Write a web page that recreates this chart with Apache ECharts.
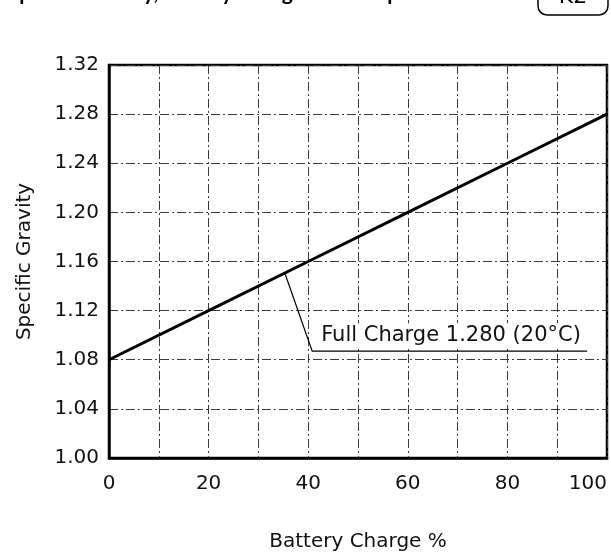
<!DOCTYPE html>
<html>
<head>
<meta charset="utf-8">
<script src="https://cdn.jsdelivr.net/npm/echarts@6/dist/echarts.min.js"></script>
<style>
  html, body { margin: 0; padding: 0; background: #fff; }
  #chart { width: 611px; height: 552px; }
</style>
</head>
<body>
<div id="chart"></div>
<script>
// Specific gravity of the electrolyte against state of charge
const chargePercent = [0, 20, 40, 60, 80, 100];
const specificGravity = [1.08, 1.12, 1.16, 1.20, 1.24, 1.28];

// Callout: point on the line, elbow, and end of the underline (data units)
const calloutText = 'Full Charge 1.280 (20°C)';
const calloutAnchor = [35.3, 1.1506];
const calloutElbow = [40.8, 1.087];
const calloutEnd = [96, 1.087];

const headerText = 'Specific Gravity, Battery Charge and Temperature';
const badgeText = 'K2';

const FONT = '"DejaVu Sans", sans-serif';
const HEAD_FONT = 'Lato, sans-serif';
const GRID_LINE = { color: '#3a3a3a', width: 1, type: [9, 3, 2, 3] };

const chart = echarts.init(document.getElementById('chart'), null, { renderer: 'canvas' });

const option = {
  animation: false,
  backgroundColor: '#fff',
  grid: {
    left: 109, right: 4, top: 65, bottom: 94,
    containLabel: false, outerBoundsMode: 'none',
    show: true, borderColor: '#000', borderWidth: 2.5
  },
  xAxis: {
    type: 'value', min: 0, max: 100, interval: 10,
    name: 'Battery Charge %', nameLocation: 'middle', nameGap: 74,
    nameTextStyle: { fontFamily: FONT, fontSize: 20, color: '#111' },
    axisLine: { show: true, lineStyle: { color: '#000', width: 2.5 } },
    axisTick: { show: false },
    axisLabel: {
      margin: 16, fontFamily: FONT, fontSize: 20, color: '#111',
      alignMaxLabel: 'right',
      formatter: v => (v % 20 === 0 ? String(v) : '')
    },
    splitLine: { show: true, lineStyle: GRID_LINE }
  },
  yAxis: {
    type: 'value', min: 1.00, max: 1.32, interval: 0.04,
    name: 'Specific Gravity', nameLocation: 'middle', nameGap: 74,
    nameTextStyle: { fontFamily: FONT, fontSize: 20, color: '#111' },
    axisLine: { show: true, lineStyle: { color: '#000', width: 2.5 } },
    axisTick: { show: false },
    axisLabel: {
      margin: 10, fontFamily: FONT, fontSize: 20, color: '#111',
      formatter: v => v.toFixed(2)
    },
    splitLine: { show: true, lineStyle: GRID_LINE }
  },
  series: [{
    type: 'line',
    data: chargePercent.map((x, i) => [x, specificGravity[i]]),
    symbol: 'none',
    lineStyle: { color: '#000', width: 3 },
    z: 5
  }]
};

chart.setOption(option);

// Header, badge and callout placed after layout so they follow the axes
function drawExtras() {
  const p = v => chart.convertToPixel({ gridIndex: 0 }, v);
  const a = p(calloutAnchor), e = p(calloutElbow), f = p(calloutEnd);
  chart.setOption({
    graphic: [
      {
        type: 'text', left: 8, top: -17,
        style: { text: headerText, font: 'bold 21px ' + HEAD_FONT, fill: '#000' }
      },
      {
        type: 'rect', shape: { x: 538, y: -20, width: 70, height: 35, r: 9 },
        style: { fill: 'none', stroke: '#000', lineWidth: 1.5 }
      },
      {
        type: 'text', x: 573, y: 8,
        style: { text: badgeText, font: '22px ' + FONT, fill: '#000', align: 'center', verticalAlign: 'bottom' }
      },
      {
        type: 'polyline', shape: { points: [a, e, f] },
        style: { fill: 'none', stroke: '#000', lineWidth: 1.2 }, z: 10
      },
      {
        type: 'text', x: e[0] + 6, y: e[1] - 4,
        style: {
          text: calloutText, font: '21px ' + FONT, fill: '#111', verticalAlign: 'bottom',
          backgroundColor: '#fff', padding: [2, 3, 1, 3]
        },
        z: 10
      }
    ]
  });
}
drawExtras();
</script>
</body>
</html>
